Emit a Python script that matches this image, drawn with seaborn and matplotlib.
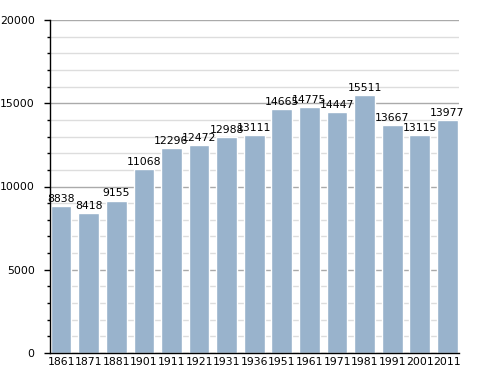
import matplotlib
matplotlib.use("Agg")
import matplotlib.pyplot as plt
from matplotlib.ticker import MultipleLocator
import pandas as pd
import seaborn as sns

years = ["1861", "1871", "1881", "1901", "1911", "1921", "1931", "1936",
         "1951", "1961", "1971", "1981", "1991", "2001", "2011"]
population = [8838, 8418, 9155, 11068, 12296, 12472, 12988, 13111,
              14665, 14775, 14447, 15511, 13667, 13115, 13977]

df = pd.DataFrame({"year": years, "population": population})

sns.set_theme(style="white")
plt.rcParams["font.family"] = ["DejaVu Sans"]
plt.rcParams["text.color"] = "black"
plt.rcParams["xtick.color"] = "black"
plt.rcParams["ytick.color"] = "black"

fig = plt.figure(figsize=(4.88, 3.73), dpi=100)
ax = fig.add_axes([0.1025, 0.0536, 0.8381, 0.8928])

sns.barplot(data=df, x="year", y="population", color="#99b3cc",
            saturation=1, width=0.75, ax=ax)
for patch in ax.patches:
    patch.set_zorder(3)

ax.set_ylim(0, 20000)
ax.set_xlim(-0.4, len(years) - 0.58)
ax.yaxis.set_major_locator(MultipleLocator(5000))
ax.yaxis.set_minor_locator(MultipleLocator(1000))
ax.set_axisbelow(True)
ax.grid(which="major", axis="y", color="#aaaaaa", linewidth=1, linestyle="-")
ax.grid(which="minor", axis="y", color="#dddddd", linewidth=1, linestyle="-")

for side in ["top", "right"]:
    ax.spines[side].set_visible(False)
for side in ["left", "bottom"]:
    ax.spines[side].set_color("black")
    ax.spines[side].set_linewidth(1)
    ax.spines[side].set_zorder(4)

ax.tick_params(axis="y", which="major", length=4, width=1, color="black",
               left=True, labelsize=7.8, pad=7, labelcolor="black")
ax.tick_params(axis="y", which="minor", length=2, width=1, color="black", left=True)
ax.tick_params(axis="x", length=0, labelsize=7.8, pad=3, labelcolor="black")
ax.set_xlabel("")
ax.set_ylabel("")

for container in ax.containers:
    ax.bar_label(container, fmt="%d", padding=1.5, fontsize=7.8, color="black", zorder=5)

fig.savefig("out.png", dpi=100)
